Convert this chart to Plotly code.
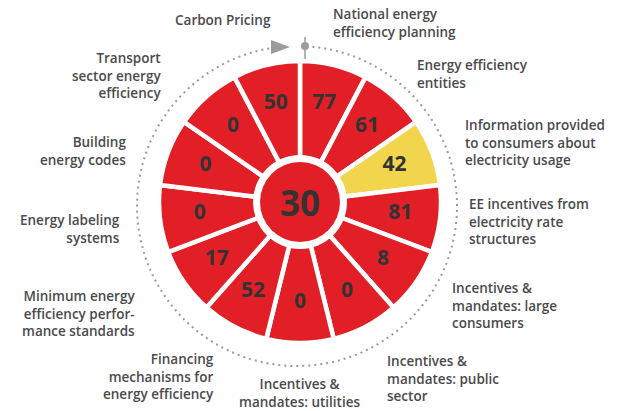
import plotly.graph_objects as go
import numpy as np

# ---------------- data ----------------
categories = [
    "National energy efficiency planning",
    "Energy efficiency entities",
    "Information provided to consumers about electricity usage",
    "EE incentives from electricity rate structures",
    "Incentives & mandates: large consumers",
    "Incentives & mandates: public sector",
    "Incentives & mandates: utilities",
    "Financing mechanisms for energy efficiency",
    "Minimum energy efficiency performance standards",
    "Energy labeling systems",
    "Building energy codes",
    "Transport sector energy efficiency",
    "Carbon Pricing",
]
values = [77, 61, 42, 81, 8, 0, 0, 52, 17, 0, 0, 0, 50]
overall_score = 30
highlighted = "Information provided to consumers about electricity usage"

label_lines = [
    ["National energy", "efficiency planning"],
    ["Energy efficiency", "entities"],
    ["Information provided", "to consumers about", "electricity usage"],
    ["EE incentives from", "electricity rate", "structures"],
    ["Incentives &", "mandates: large", "consumers"],
    ["Incentives &", "mandates: public", "sector"],
    ["Incentives &", "mandates: utilities"],
    ["Financing", "mechanisms for", "energy efficiency"],
    ["Minimum energy", "efficiency perfor-", "mance standards"],
    ["Energy labeling", "systems"],
    ["Building", "energy codes"],
    ["Transport", "sector energy", "efficiency"],
    ["Carbon Pricing"],
]

# ---------------- style / layout ----------------
W, H = 629, 411
RED = "#E21F26"
YELLOW = "#F1D54C"
TEXT = "#4A4A4C"
VAL = "#333333"
GRAY = "#9B9B9B"
FONT = "Open Sans"

def px(x):
    return x / W

def py(y):
    return 1 - y / H

n = len(categories)
step = 360 / n

# sector wheel geometry (pixels)
cx, cy, R = 300, 202, 160
# dotted ring geometry
dcx, dcy, DR = 297, 206, 170

colors = [YELLOW if c == highlighted else RED for c in categories]

fig = go.Figure()
fig.add_trace(go.Barpolar(
    r=[141] * n, theta=categories,
    marker=dict(color=colors, line=dict(color="white", width=4.5)),
    hoverinfo="skip", subplot="polar",
))
fig.add_trace(go.Scatterpolar(
    r=[101] * n, theta=categories, mode="text",
    text=[str(v) for v in values],
    textfont=dict(family=FONT, size=21, color=VAL, weight="bold"),
    hoverinfo="skip", subplot="polar",
))
ring_theta = np.linspace(5.5, 350.5, 300)
fig.add_trace(go.Scatterpolar(
    r=[160] * len(ring_theta), theta=ring_theta, mode="lines",
    line=dict(color=GRAY, width=2, dash="2px,4px"),
    hoverinfo="skip", subplot="polar2",
))

axis_off = dict(showgrid=False, showline=False, showticklabels=False, ticks="")
fig.update_layout(
    width=W, height=H,
    margin=dict(l=0, r=0, t=0, b=0),
    paper_bgcolor="white", plot_bgcolor="white",
    showlegend=False,
    polar=dict(
        domain=dict(x=[px(cx - R), px(cx + R)], y=[py(cy + R), py(cy - R)]),
        bgcolor="rgba(0,0,0,0)",
        radialaxis=dict(range=[0, R], visible=False),
        angularaxis=dict(direction="clockwise", rotation=90 - step / 2, **axis_off),
        bargap=0,
    ),
    polar2=dict(
        domain=dict(x=[px(dcx - DR), px(dcx + DR)], y=[py(dcy + DR), py(dcy - DR)]),
        bgcolor="rgba(0,0,0,0)",
        radialaxis=dict(range=[0, DR], visible=False),
        angularaxis=dict(direction="clockwise", rotation=90, **axis_off),
    ),
)

shapes = [
    # center disc
    dict(type="circle", xref="paper", yref="paper", layer="above",
         x0=px(cx - 47), x1=px(cx + 47), y0=py(cy + 47), y1=py(cy - 47),
         fillcolor="white", line=dict(width=0)),
    dict(type="circle", xref="paper", yref="paper", layer="above",
         x0=px(cx - 40), x1=px(cx + 40), y0=py(cy + 40), y1=py(cy - 40),
         fillcolor=RED, line=dict(width=0)),
    # start arrow
    dict(type="path", xref="paper", yref="paper", layer="above",
         path=f"M {px(271)},{py(40)} L {px(271)},{py(54)} L {px(290)},{py(47)} Z",
         fillcolor=GRAY, line=dict(width=0)),
    # tick and dot
    dict(type="line", xref="paper", yref="paper", layer="above",
         x0=px(305), x1=px(305), y0=py(37), y1=py(59),
         line=dict(color=GRAY, width=1.5)),
    dict(type="circle", xref="paper", yref="paper", layer="above",
         x0=px(301), x1=px(309), y0=py(50), y1=py(42),
         fillcolor=GRAY, line=dict(width=0)),
]

# label positions: (x, y_center, anchor)
label_pos = [
    (331, 23, "left"),
    (415, 74, "left"),
    (463, 142, "left"),
    (467, 221, "left"),
    (450, 305, "left"),
    (385, 378, "left"),
    (300, 393, "center"),
    (216, 376, "right"),
    (137, 313, "right"),
    (122, 229, "right"),
    (128, 151, "right"),
    (163, 75, "right"),
    (273, 20, "right"),
]

annotations = []
for lines, (x, y, anc) in zip(label_lines, label_pos):
    annotations.append(dict(
        text="<br>".join(lines), x=px(x), y=py(y), xref="paper", yref="paper",
        xanchor=anc, yanchor="middle", align=anc, showarrow=False,
        font=dict(family=FONT, size=13.5, color=TEXT, weight=600),
    ))
annotations.append(dict(
    text=str(overall_score), x=px(cx), y=py(cy), xref="paper", yref="paper",
    xanchor="center", yanchor="middle", showarrow=False,
    font=dict(family=FONT, size=35, color=VAL, weight="bold"),
))

fig.update_layout(shapes=shapes, annotations=annotations)
fig.write_html("out.html", config={"displayModeBar": False},
               post_script="document.body.style.margin='0';document.body.style.overflow='hidden';")
